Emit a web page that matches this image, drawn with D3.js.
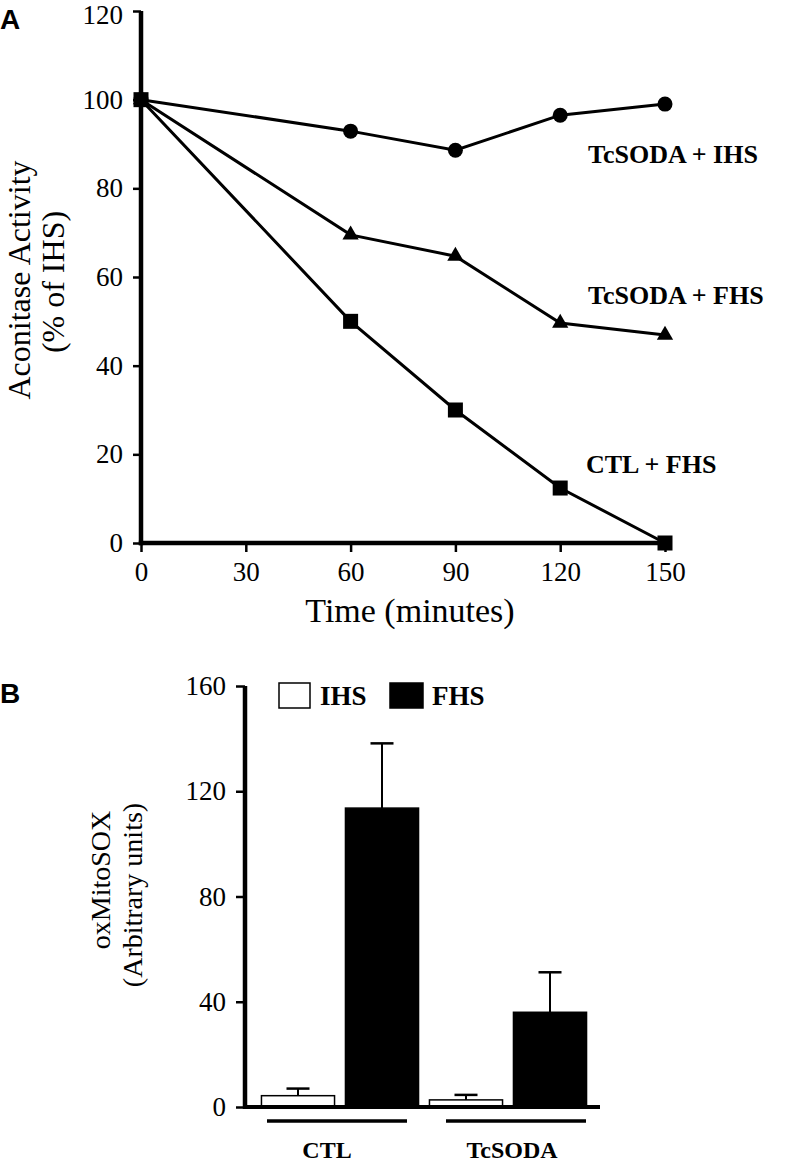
<!DOCTYPE html>
<html><head><meta charset="utf-8">
<script src="https://cdn.jsdelivr.net/npm/d3@7"></script>
<style>body{margin:0;background:#fff}svg{display:block}</style>
</head><body>
<script>
// ---- Panel A data ----
const times = [0, 60, 90, 120, 150];
const sodaIHS = [100, 92.9, 88.6, 96.5, 99.0];
const sodaFHS = [100, 69.5, 64.7, 49.6, 46.9];
const ctlFHS  = [100, 50.0, 30.0, 12.4, 0];
const seriesNamesA = ["TcSODA + IHS", "TcSODA + FHS", "CTL + FHS"];
const xTicksA = [0, 30, 60, 90, 120, 150];
const yTicksA = [0, 20, 40, 60, 80, 100, 120];

// ---- Panel B data ----
const groupsB = ["CTL", "TcSODA"];
const conditionsB = ["IHS", "FHS"];
const meanIHS = [4.3, 2.7];
const meanFHS = [113.6, 36.0];
const errIHS = [2.7, 1.9];
const errFHS = [24.6, 15.2];
const yTicksB = [0, 40, 80, 120, 160];

const W = 788, H = 1164;
const svg = d3.select("body").append("svg").attr("width", W).attr("height", H);
const serif = "'Liberation Serif', 'Times New Roman', serif";
const sans = "'Liberation Sans', Arial, sans-serif";

function txt(sel, size, bold, fam) {
  return sel.style("font-family", fam || serif).style("font-size", size + "px")
    .style("font-weight", bold ? "bold" : "normal").attr("fill", "#000");
}

// Panel letters
txt(svg.append("text").attr("x", 0).attr("y", 29).text("A"), 28, true, sans);
txt(svg.append("text").attr("x", 0).attr("y", 703).text("B"), 28, true, sans);

// ---------------- Panel A ----------------
const xA = d3.scaleLinear().domain([0, 150]).range([141, 665]);
const yA = d3.scaleLinear().domain([0, 120]).range([543, 11]);

const gA = svg.append("g");
const yAxisA = gA.append("g").attr("transform", `translate(${xA(0)},0)`)
  .call(d3.axisLeft(yA).tickValues(yTicksA).tickSize(8).tickSizeOuter(0).tickPadding(10));
const xAxisA = gA.append("g").attr("transform", `translate(0,${yA(0)})`)
  .call(d3.axisBottom(xA).tickValues(xTicksA).tickSize(9).tickSizeOuter(0).tickPadding(10));
[yAxisA, xAxisA].forEach(ax => {
  ax.attr("font-family", null).attr("font-size", null);
  ax.select(".domain").attr("stroke", "#000").attr("stroke-width", 4.5);
  ax.selectAll(".tick line").attr("stroke", "#000").attr("stroke-width", 2.5);
  txt(ax.selectAll(".tick text"), 27, false);
});
yAxisA.select(".domain").attr("d", `M0,${yA(120)}V${yA(0) + 2.2}`);
xAxisA.select(".domain").attr("d", `M${xA(0) - 2.2},0H${xA(150)}`);
// keep the top tick label inside the frame
yAxisA.selectAll(".tick text").filter(d => d === 120).attr("dy", "0.48em");

// axis titles
txt(gA.append("text").attr("transform", "translate(410,622)").attr("text-anchor", "middle").text("Time (minutes)"), 34, false);
txt(gA.append("text").attr("transform", "translate(30,280) rotate(-90)").attr("text-anchor", "middle").text("Aconitase Activity"), 32, false);
txt(gA.append("text").attr("transform", "translate(64,282) rotate(-90)").attr("text-anchor", "middle").text("(% of IHS)"), 32, false);

const line = d3.line().x((d, i) => xA(times[i])).y(d => yA(d));
[sodaIHS, sodaFHS, ctlFHS].forEach(s => {
  gA.append("path").attr("d", line(s)).attr("fill", "none").attr("stroke", "#000").attr("stroke-width", 3);
});
// markers
gA.selectAll("circle.m").data(sodaIHS).join("circle")
  .attr("cx", (d, i) => xA(times[i])).attr("cy", d => yA(d)).attr("r", 7.5).attr("fill", "#000");
const tri = d3.symbol().type(d3.symbolTriangle).size(115);
gA.selectAll("path.t").data(sodaFHS).join("path").attr("class", "t")
  .attr("transform", (d, i) => `translate(${xA(times[i])},${yA(d)})`).attr("d", tri).attr("fill", "#000");
gA.selectAll("rect.s").data(ctlFHS).join("rect").attr("class", "s")
  .attr("x", (d, i) => xA(times[i]) - 7.5).attr("y", d => yA(d) - 7.5)
  .attr("width", 15).attr("height", 15).attr("fill", "#000");

// series labels
const labelY = [163, 304, 473];
const labelX = [588, 588, 586];
seriesNamesA.forEach((n, i) => {
  txt(gA.append("text").attr("x", labelX[i]).attr("y", labelY[i]).text(n), 26, true);
});

// ---------------- Panel B ----------------
const yB = d3.scaleLinear().domain([0, 160]).range([1107, 686]);
const x0 = d3.scaleBand().domain(groupsB).range([256, 592]);
const x1 = d3.scaleBand().domain(conditionsB).range([0, x0.bandwidth()]).paddingInner(0.13).paddingOuter(0.065);

const gB = svg.append("g");
const yAxisB = gB.append("g").attr("transform", "translate(245,0)")
  .call(d3.axisLeft(yB).tickValues(yTicksB).tickSize(9).tickSizeOuter(0).tickPadding(10));
yAxisB.attr("font-family", null).attr("font-size", null);
yAxisB.select(".domain").attr("stroke", "#000").attr("stroke-width", 4.5)
  .attr("d", `M0,${yB(160)}V${yB(0) + 2}`);
yAxisB.selectAll(".tick line").attr("stroke", "#000").attr("stroke-width", 2.5);
txt(yAxisB.selectAll(".tick text"), 27, false);

txt(gB.append("text").attr("transform", "translate(110,880) rotate(-90)").attr("text-anchor", "middle").text("oxMitoSOX"), 28, false);
txt(gB.append("text").attr("transform", "translate(142,895) rotate(-90)").attr("text-anchor", "middle").text("(Arbitrary units)"), 28, false);

const barData = [];
groupsB.forEach((g, gi) => {
  barData.push({ g, c: "IHS", v: meanIHS[gi], e: errIHS[gi] });
  barData.push({ g, c: "FHS", v: meanFHS[gi], e: errFHS[gi] });
});
const bx = d => x0(d.g) + x1(d.c);
gB.selectAll("line.err").data(barData).join("line")
  .attr("x1", d => bx(d) + x1.bandwidth() / 2).attr("x2", d => bx(d) + x1.bandwidth() / 2)
  .attr("y1", d => yB(d.v)).attr("y2", d => yB(d.v + d.e)).attr("stroke", "#000").attr("stroke-width", 2);
gB.selectAll("line.cap").data(barData).join("line")
  .attr("x1", d => bx(d) + x1.bandwidth() / 2 - 11.5).attr("x2", d => bx(d) + x1.bandwidth() / 2 + 11.5)
  .attr("y1", d => yB(d.v + d.e)).attr("y2", d => yB(d.v + d.e)).attr("stroke", "#000").attr("stroke-width", 2.5);
gB.selectAll("rect.bar").data(barData).join("rect")
  .attr("x", d => bx(d)).attr("width", x1.bandwidth())
  .attr("y", d => yB(d.v)).attr("height", d => yB(0) - yB(d.v))
  .attr("fill", d => d.c === "IHS" ? "#fff" : "#000").attr("stroke", "#000").attr("stroke-width", 1.5);

gB.append("line").attr("x1", 243).attr("x2", 600).attr("y1", yB(0)).attr("y2", yB(0))
  .attr("stroke", "#000").attr("stroke-width", 4);

groupsB.forEach((g, gi) => {
  const c = x0(g) + x0.bandwidth() / 2 + (gi === 0 ? -3 : 8);
  gB.append("line").attr("x1", c - 70).attr("x2", c + 70).attr("y1", 1121).attr("y2", 1121)
    .attr("stroke", "#000").attr("stroke-width", 3.5);
  txt(gB.append("text").attr("x", x0(g) + x0.bandwidth() / 2 + (gi === 0 ? -13 : 4)).attr("y", 1158)
    .attr("text-anchor", "middle").text(g), 24, true);
});

// legend
const legX = [279, 390];
conditionsB.forEach((c, i) => {
  gB.append("rect").attr("x", legX[i]).attr("y", 683).attr("width", i === 0 ? 31 : 33).attr("height", 25)
    .attr("fill", c === "IHS" ? "#fff" : "#000").attr("stroke", "#000").attr("stroke-width", 1.5);
  txt(gB.append("text").attr("x", legX[i] + (i === 0 ? 41 : 42)).attr("y", 705).text(c), 27, true);
});
</script>
</body></html>
